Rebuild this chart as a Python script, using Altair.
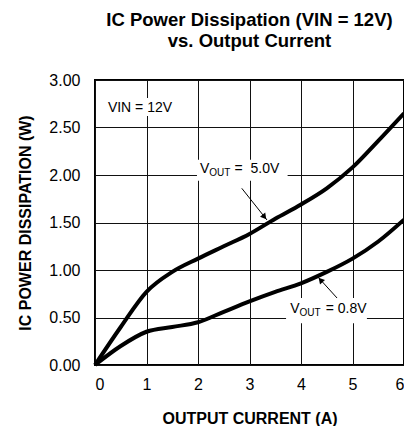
import altair as alt
import pandas as pd

# Data
current = [0, 0.5, 1, 1.5, 2, 2.5, 3, 3.5, 4, 4.5, 5, 5.5, 6]
p_5v0 = [0, 0.40, 0.77, 0.98, 1.12, 1.25, 1.38, 1.54, 1.69, 1.86, 2.08, 2.36, 2.65]
p_0v8 = [0, 0.20, 0.35, 0.40, 0.45, 0.56, 0.67, 0.77, 0.86, 0.98, 1.12, 1.30, 1.53]

series_names = ["VOUT = 5.0V", "VOUT = 0.8V"]

x_ticks = [0, 1, 2, 3, 4, 5, 6]
y_ticks = [0, 0.5, 1.0, 1.5, 2.0, 2.5, 3.0]

# Annotation anchors (data units)
box_x = [0.21, 1.98, 3.71]
box_x2 = [1.51, 3.74, 5.28]
box_y = [2.81, 2.16, 0.705]
box_y2 = [2.62, 1.94, 0.44]

lab_main_x = [0.25, 2.04, 3.79]
lab_main_y = [2.66, 2.02, 0.547]
lab_main_t = ["VIN = 12V", "V", "V"]

lab_sub_x = [2.22, 3.97]
lab_sub_y = [1.99, 0.516]
lab_sub_t = ["OUT", "OUT"]

lab_rest_x = [2.71, 4.48]
lab_rest_y = [2.02, 0.547]
lab_rest_t = ["=\u00a0 5.0V", "= 0.8V"]

arrow_id = ["a", "a", "b", "b"]
arrow_px = [2.85, 3.34, 4.70, 4.33]
arrow_py = [1.86, 1.526, 0.705, 0.926]

head_x = [3.29, 4.38]
head_y = [1.558, 0.895]
head_angle = [141, 318]

rows = []
for name, vals in zip(series_names, [p_5v0, p_0v8]):
    for c, p in zip(current, vals):
        rows.append({"current": c, "power": p, "series": name})
df = pd.DataFrame(rows)

FONT = "Liberation Sans"

xs = alt.Scale(domain=[0, 6], nice=False)
ys = alt.Scale(domain=[0, 3], nice=False)

lines = alt.Chart(df).mark_line(
    color="black", strokeWidth=4, interpolate="monotone"
).encode(
    x=alt.X("current:Q", scale=xs,
            axis=alt.Axis(values=x_ticks, format="d", title="OUTPUT CURRENT (A)",
                          grid=True, gridColor="#111", gridWidth=1,
                          ticks=False, labelPadding=11, labelFontSize=16,
                          titleFontSize=16, titleFontWeight="bold", titlePadding=18,
                          domain=False, labelFont=FONT, titleFont=FONT,
                          labelColor="black", titleColor="black")),
    y=alt.Y("power:Q", scale=ys,
            axis=alt.Axis(values=y_ticks, format=".2f", title="IC POWER DISSIPATION (W)",
                          grid=True, gridColor="#111", gridWidth=1,
                          ticks=False, labelPadding=15, labelFontSize=16,
                          titleFontSize=16, titleFontWeight="bold", titlePadding=15,
                          domain=False, labelFont=FONT, titleFont=FONT,
                          labelColor="black", titleColor="black")),
    detail="series:N",
)

boxes = alt.Chart(pd.DataFrame({"bx": box_x, "bx2": box_x2, "by": box_y, "by2": box_y2})).mark_rect(
    color="white"
).encode(x=alt.X("bx:Q", scale=xs), x2="bx2:Q", y=alt.Y("by:Q", scale=ys), y2="by2:Q")

main_txt = alt.Chart(pd.DataFrame({"tx": lab_main_x, "ty": lab_main_y, "t": lab_main_t})).mark_text(
    align="left", baseline="alphabetic", fontSize=14, font=FONT, color="black"
).encode(x=alt.X("tx:Q", scale=xs), y=alt.Y("ty:Q", scale=ys), text="t:N")

sub_txt = alt.Chart(pd.DataFrame({"tx": lab_sub_x, "ty": lab_sub_y, "t": lab_sub_t})).mark_text(
    align="left", baseline="alphabetic", fontSize=10, font=FONT, color="black"
).encode(x=alt.X("tx:Q", scale=xs), y=alt.Y("ty:Q", scale=ys), text="t:N")

rest_txt = alt.Chart(pd.DataFrame({"tx": lab_rest_x, "ty": lab_rest_y, "t": lab_rest_t})).mark_text(
    align="left", baseline="alphabetic", fontSize=14, font=FONT, color="black"
).encode(x=alt.X("tx:Q", scale=xs), y=alt.Y("ty:Q", scale=ys), text="t:N")

arrow_lines = alt.Chart(pd.DataFrame({"id": arrow_id, "ax": arrow_px, "ay": arrow_py})).mark_line(
    color="black", strokeWidth=1
).encode(
    x=alt.X("ax:Q", scale=xs), y=alt.Y("ay:Q", scale=ys), detail="id:N"
)

arrow_heads = alt.Chart(pd.DataFrame({"hx": head_x, "hy": head_y, "ha": head_angle})).mark_point(
    shape="triangle-up", filled=True, color="black", size=45, opacity=1
).encode(
    x=alt.X("hx:Q", scale=xs), y=alt.Y("hy:Q", scale=ys), angle=alt.Angle("ha:Q", scale=None)
)

chart = alt.layer(boxes, lines, main_txt, sub_txt, rest_txt, arrow_lines, arrow_heads).properties(
    width=309, height=285,
    title=alt.Title(["IC Power Dissipation (VIN = 12V)", "vs. Output Current"],
                    fontSize=18.5, font=FONT, fontWeight="bold", color="black",
                    anchor="middle", offset=22, lineHeight=21),
    autosize=alt.AutoSizeParams(type="none"),
    padding={"left": 87, "top": 72, "right": 0, "bottom": 61},
).configure_view(
    stroke="black", strokeWidth=2
)

chart.save("out.html", embed_options={"renderer": "svg", "actions": False})
